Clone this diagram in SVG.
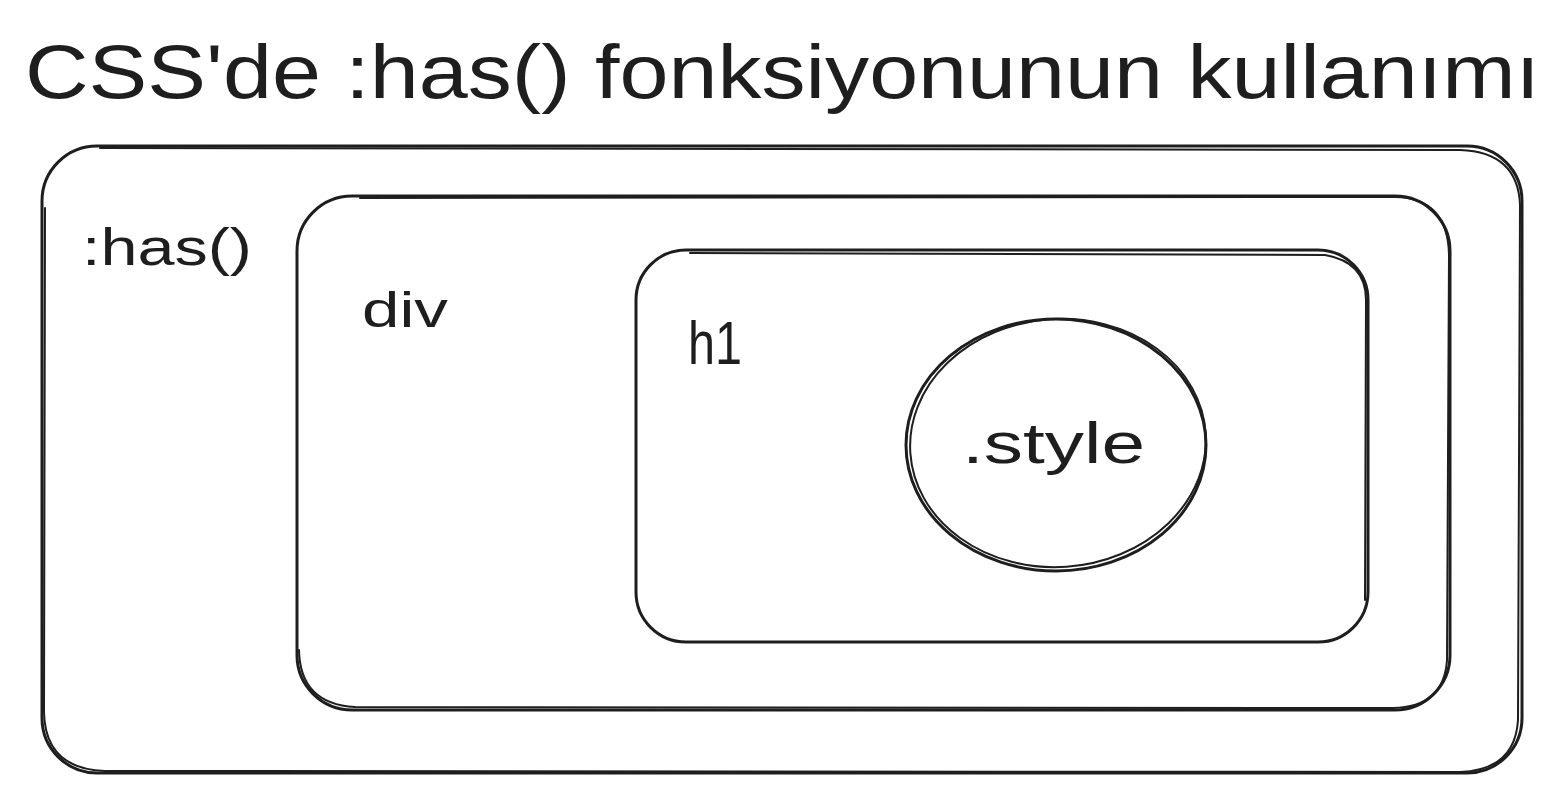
<svg xmlns="http://www.w3.org/2000/svg" width="1561" height="793" viewBox="0 0 1561 793">
<style>
.s{fill:none;stroke:#1e1e1e;stroke-width:3;stroke-linecap:round;stroke-linejoin:round}
.s2{fill:none;stroke:#1e1e1e;stroke-width:2;stroke-linecap:round}
.t{font-family:"Liberation Sans","DejaVu Sans",sans-serif;fill:#1e1e1e}
</style>
<rect width="1561" height="793" fill="#ffffff"/>
<text class="t" x="25" y="98" font-size="76" textLength="1515" lengthAdjust="spacingAndGlyphs">CSS'de :has() fonksiyonunun kullanımı</text>
<g id="outer">
<rect class="s" x="42" y="146" width="1480" height="627" rx="55"/>
<path class="s2" d="M100 148 L1460 150 Q1518 152 1520 205 L1518 720 Q1515 770 1460 772 L105 771 Q45 769 44 712 L45 208"/>
<text class="t" x="82" y="265" font-size="52" textLength="170" lengthAdjust="spacingAndGlyphs">:has()</text>
</g>
<g id="div">
<rect class="s" x="297" y="196" width="1153" height="514" rx="55"/>
<path class="s2" d="M360 198 L1395 197 Q1448 198 1449 255 L1447 660 Q1444 707 1393 708 L355 707 Q300 704 299 650"/>
<text class="t" x="362" y="327" font-size="50" textLength="86" lengthAdjust="spacingAndGlyphs">div</text>
</g>
<g id="h1">
<rect class="s" x="636" y="250" width="732" height="392" rx="50"/>
<path class="s2" d="M690 253 L1325 255 Q1366 262 1366 300 L1365 600"/>
<text class="t" x="688" y="364" font-size="62" textLength="54" lengthAdjust="spacingAndGlyphs">h1</text>
</g>
<g id="style">
<ellipse class="s" cx="1056" cy="445" rx="150" ry="126"/>
<ellipse class="s2" cx="1058" cy="443" rx="148" ry="124" transform="rotate(-4 1058 443)"/>
<text class="t" x="962" y="463" font-size="58" textLength="183" lengthAdjust="spacingAndGlyphs">.style</text>
</g>
<g id="connectors"/>
</svg>
